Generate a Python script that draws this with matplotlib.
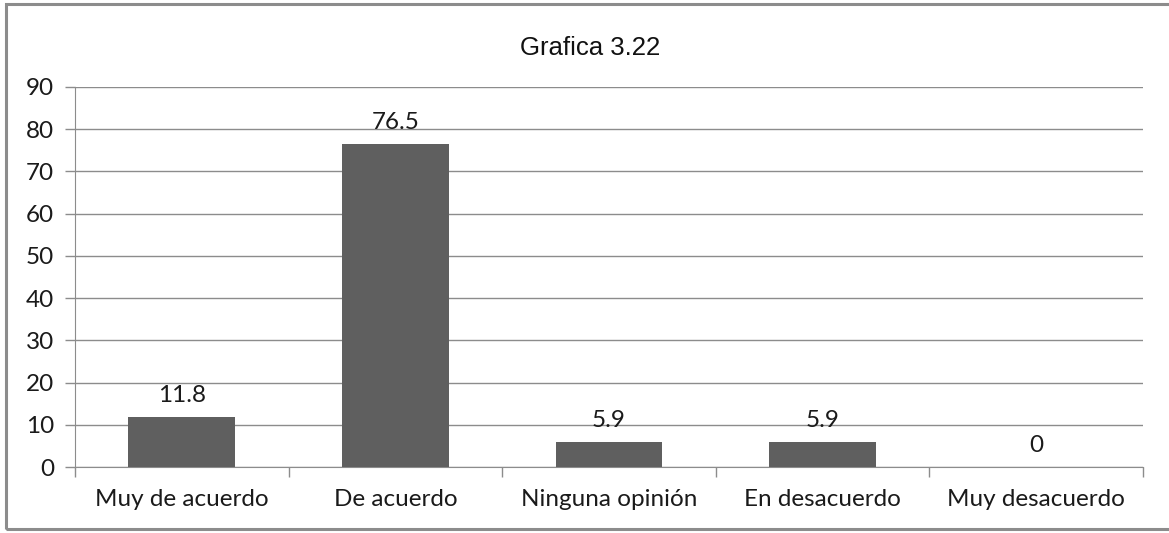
import matplotlib.pyplot as plt
from matplotlib.patches import Rectangle

categories = ['Muy de acuerdo', 'De acuerdo', 'Ninguna opinión', 'En desacuerdo', 'Muy desacuerdo']
values = [11.8, 76.5, 5.9, 5.9, 0]
labels = ['11.8', '76.5', '5.9', '5.9', '0']
y_ticks = list(range(0, 100, 10))

plt.rcParams['font.family'] = ['Lato', 'DejaVu Sans']

fig = plt.figure(figsize=(11.69, 5.33), dpi=100)
ax = fig.add_axes([0.0642, 0.1238, 0.9136, 0.713])

# outer chart border
fig.patches.append(Rectangle((0.005, 0.007), 1.2, 0.986, transform=fig.transFigure,
                             fill=False, edgecolor='#8c8c8c', linewidth=2.2))

x = list(range(len(categories)))
bars = ax.bar(x, values, width=0.5, color='#5f5f5f', zorder=3)
for xi, v, lab in zip(x, values, labels):
    ax.text(xi, v + 2.6, lab, ha='center', va='bottom', fontsize=17.5, color='#1a1a1a')

ax.set_xlim(-0.5, len(categories) - 0.5)
ax.set_ylim(0, 90)
ax.set_yticks(y_ticks)
ax.tick_params(axis='y', length=7, width=1, color='#8c8c8c', labelsize=17.5, pad=8,
               labelcolor='#1a1a1a')
ax.set_xticks(x)
ax.set_xticklabels(categories, fontsize=17.5, color='#1a1a1a')
ax.tick_params(axis='x', length=0, pad=16)
# category separators on the x axis
ax.set_xticks([i - 0.5 for i in range(len(categories) + 1)], minor=True)
ax.tick_params(axis='x', which='minor', length=7, width=1, color='#8c8c8c')

ax.grid(axis='y', color='#8c8c8c', linewidth=1, zorder=0)
for s in ['top', 'right']:
    ax.spines[s].set_visible(False)
ax.spines['left'].set_color('#8c8c8c')
ax.spines['bottom'].set_color('#8c8c8c')

fig.text(0.505, 0.91, 'Grafica 3.22', ha='center', va='center', fontsize=18.5,
         family='Liberation Sans', color='#111111')

plt.savefig('out.png', dpi=100)
